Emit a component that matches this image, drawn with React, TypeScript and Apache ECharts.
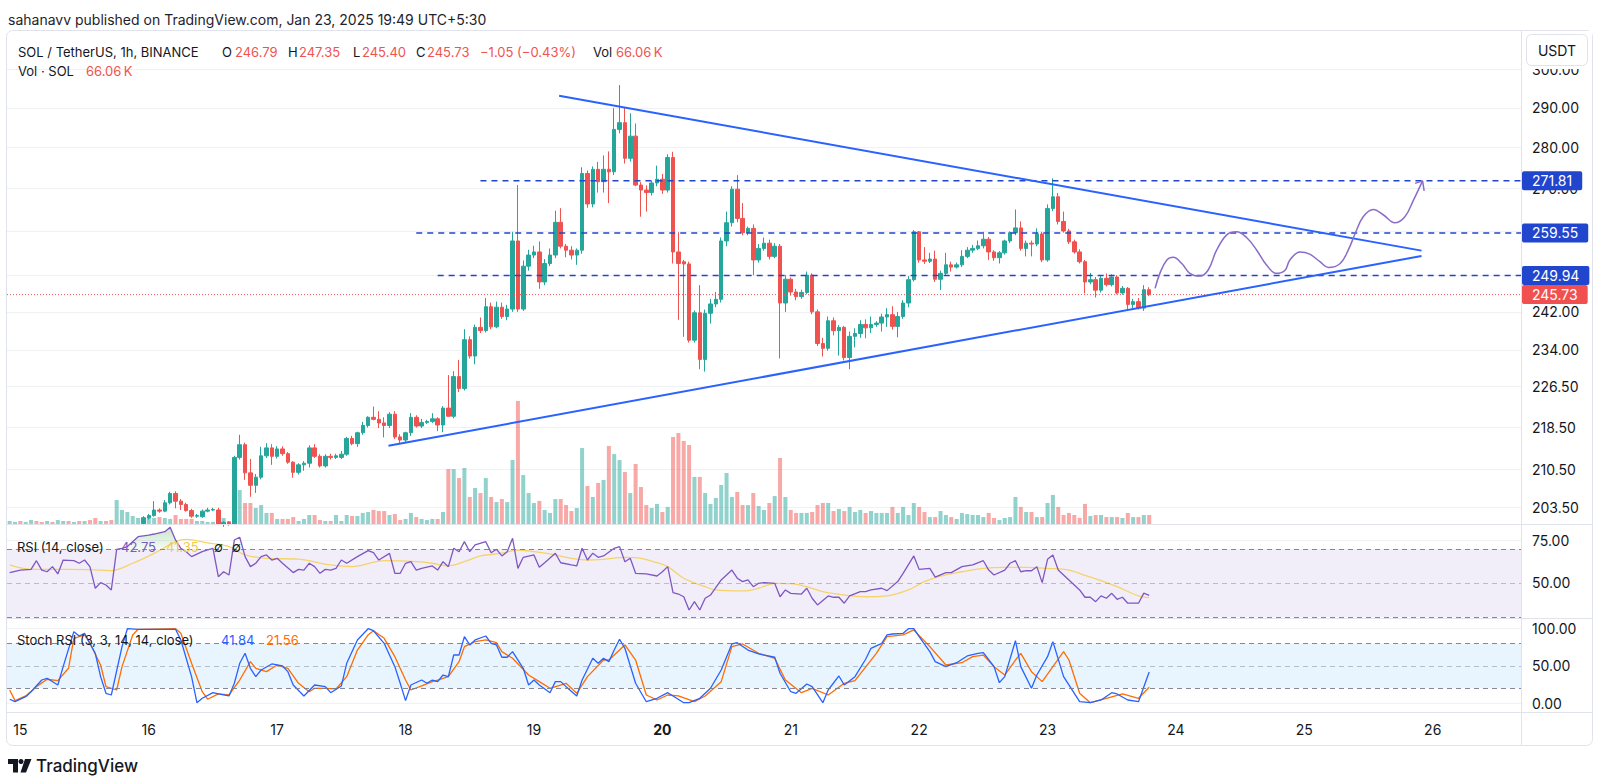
import React, { useEffect, useRef } from 'react';
import * as echarts from 'echarts';

// ---------- DATA ----------
// Hourly candles from Jan 14 22:00 (index 0) to Jan 23 19:00 (index 213): [open, high, low, close]
const ohlc: number[][] = [
  [193.5,194.2,192.9,193.8],[193.8,194.6,193.4,194.3],[194.3,194.8,193.6,194.0],[194.0,194.9,193.7,194.6],
  [194.6,196.2,194.3,195.9],[195.9,196.4,194.8,195.1],[195.1,195.5,194.4,194.9],[194.9,195.9,194.6,195.6],
  [195.6,195.8,194.5,194.8],[194.8,196.5,194.6,196.2],[196.2,196.8,195.7,196.4],[196.4,196.9,195.8,196.1],
  [196.1,197.0,195.9,196.6],[196.6,197.1,196.0,196.3],[196.3,197.2,196.0,196.9],[196.9,197.0,195.5,195.8],
  [195.8,196.0,193.2,193.6],[193.6,194.6,193.2,194.2],[194.2,194.4,193.1,193.5],[193.5,193.9,192.4,192.9],
  [192.9,199.2,192.7,198.8],[198.8,199.6,198.2,199.3],[199.3,199.8,198.9,199.6],[199.6,200.2,199.1,199.9],
  [199.9,200.4,199.5,200.2],
  [200.6,201.9,200.3,201.6],[201.6,202.3,201.3,202.0],[202.0,204.6,201.8,203.0],[203.0,203.3,202.5,202.8],
  [202.8,204.8,202.6,204.3],[204.3,206.3,204.0,206.0],[206.0,206.4,203.3,204.6],[204.6,205.0,203.0,204.0],
  [204.0,204.3,202.7,202.9],[202.9,203.2,201.6,201.9],[201.9,202.3,201.6,202.0],[201.8,203.1,201.6,202.8],
  [202.8,203.4,202.6,203.0],[203.0,203.4,202.8,203.1],[203.0,203.4,200.3,200.5],[200.5,201.0,200.0,200.8],
  [200.8,201.0,200.2,200.5],[200.5,213.0,200.3,212.7],[212.7,217.0,212.3,215.1],[215.1,215.5,208.5,209.8],
  [209.8,212.4,205.4,207.5],[207.5,209.6,206.1,209.0],[209.0,214.7,208.6,213.0],[213.0,215.4,212.6,214.5],
  [214.5,215.2,211.3,212.9],[212.9,214.8,212.5,214.3],[214.3,214.8,213.0,213.4],[213.4,213.7,211.5,211.8],
  [211.8,212.0,208.9,209.9],[209.9,211.6,209.5,211.3],[211.3,212.0,210.2,211.6],[211.6,215.0,210.8,214.5],
  [214.5,215.2,212.6,212.9],[212.9,213.3,210.8,211.1],[211.1,213.3,210.8,212.9],[212.9,213.4,212.3,212.7],
  [212.7,213.4,212.4,213.0],[212.7,213.9,212.4,213.3],[213.3,216.6,213.0,216.3],[216.3,216.8,215.0,215.3],
  [215.3,217.6,214.7,217.4],[217.4,219.5,217.0,218.8],[218.8,220.6,218.4,220.4],[220.4,222.5,219.8,220.0],
  [220.0,221.6,218.3,219.3],[219.3,220.4,216.5,218.8],[218.8,221.4,218.3,221.0],[221.0,221.6,216.2,216.6],
  [216.6,217.1,215.4,216.0],[216.0,217.6,215.6,217.4],[217.4,221.2,216.8,220.4],[220.4,220.8,218.4,218.7],
  [218.7,220.1,218.3,219.4],[219.4,219.9,219.1,219.6],[219.6,221.2,219.3,220.1],[220.1,220.4,217.7,218.9],
  [218.9,222.6,217.5,222.2],[222.2,228.8,221.8,220.6],[220.6,229.6,220.2,228.5],[228.5,231.9,225.4,226.1],
  [226.1,238.3,225.7,236.1],[236.1,236.8,232.2,232.7],[232.7,239.3,231.0,238.7],[238.7,240.8,237.5,238.0],
  [238.0,245.0,237.6,243.1],[243.1,244.0,238.3,238.8],[238.8,244.2,238.5,243.0],[243.0,244.0,240.5,241.0],
  [241.0,243.5,240.2,242.6],[242.6,259.8,242.0,257.7],[257.7,270.8,242.0,242.6],[242.6,253.3,242.2,252.0],
  [252.0,255.7,251.0,254.5],[254.5,256.6,253.8,255.2],[255.2,257.6,247.0,248.5],[248.5,253.6,247.8,252.6],
  [252.6,256.0,252.0,254.5],[254.5,264.7,253.8,262.0],[262.0,265.3,256.0,256.5],[256.5,257.0,254.0,255.6],
  [255.6,256.5,253.5,254.5],[254.5,256.0,252.3,255.6],[255.6,275.1,254.8,273.6],[273.6,274.3,265.4,266.3],
  [266.3,275.3,265.5,274.6],[274.6,276.4,269.0,271.6],[271.6,278.0,269.0,274.6],[274.6,279.0,266.5,274.0],
  [274.0,289.9,273.2,284.5],[284.5,295.9,283.5,286.2],[286.2,290.0,276.0,277.3],[277.3,288.6,276.5,282.8],
  [282.8,286.0,270.5,270.8],[270.8,271.5,263.3,269.6],[269.6,270.7,264.5,269.0],[269.0,271.8,268.3,271.3],
  [271.3,275.5,270.5,272.2],[272.2,273.5,268.7,269.6],[269.6,278.3,269.0,277.5],[277.5,278.9,252.6,255.2],
  [255.2,259.7,240.3,252.6],[253.0,253.4,236.7,252.5],[252.5,253.0,235.5,236.0],[236.0,242.3,235.5,241.8],
  [241.8,247.8,230.0,232.0],[232.0,242.5,229.5,241.7],[241.7,244.8,239.5,243.7],[243.7,246.3,243.0,244.7],
  [244.7,258.5,244.0,257.7],[257.7,264.5,256.5,261.9],[261.9,270.5,261.0,269.8],[269.8,273.2,262.0,262.9],
  [262.9,266.5,259.0,259.6],[259.6,261.0,259.0,260.6],[260.6,261.5,250.0,253.4],[253.4,257.0,252.8,256.0],
  [256.0,258.5,255.5,257.2],[257.2,258.0,253.5,254.2],[254.2,257.2,253.8,256.5],[256.5,257.0,232.2,243.9],
  [243.9,250.0,242.0,249.1],[249.1,249.5,245.5,246.3],[246.3,247.0,244.5,245.3],[245.3,246.8,244.8,246.2],
  [246.2,250.8,245.8,250.0],[250.0,250.4,241.5,242.0],[242.0,242.5,234.8,235.3],[235.3,236.5,232.6,234.3],
  [234.3,241.0,233.8,240.1],[240.1,240.8,237.0,238.0],[238.0,239.2,232.8,238.7],[238.7,239.0,231.8,232.4],
  [232.4,237.8,230.0,236.8],[236.8,238.5,234.5,237.4],[237.4,240.2,236.5,239.3],[239.3,240.4,236.4,238.6],
  [238.6,241.0,237.5,239.3],[239.3,240.0,238.8,239.6],[239.6,241.6,237.8,240.9],[240.9,242.8,238.8,241.4],
  [241.4,243.2,238.2,238.9],[238.9,242.0,236.6,241.0],[241.0,244.5,240.5,243.9],[243.9,249.8,243.0,249.0],
  [249.0,260.2,248.6,259.8],[259.8,260.0,252.8,253.4],[253.4,256.3,252.5,253.1],[253.1,255.0,252.7,253.6],
  [253.6,255.5,248.5,249.1],[249.1,251.0,246.7,250.4],[250.4,255.0,250.0,252.3],[252.3,253.0,250.8,251.8],
  [251.8,252.8,251.5,252.3],[252.3,255.6,251.8,254.2],[254.2,256.3,253.8,255.6],[255.6,256.8,255.0,256.0],
  [256.0,257.8,255.6,256.6],[256.6,259.8,256.0,258.1],[258.1,258.6,253.4,255.2],[255.2,255.6,253.2,253.9],
  [253.9,255.4,252.6,255.0],[255.0,258.0,254.6,257.7],[257.7,259.9,257.2,259.6],[259.6,265.0,259.0,260.7],
  [260.7,262.2,255.5,256.0],[256.0,257.8,254.2,257.2],[257.2,257.8,254.2,257.0],[257.0,260.6,256.5,259.3],
  [259.3,259.8,252.9,253.4],[253.4,266.2,253.0,265.2],[265.2,272.4,264.6,268.0],[268.0,268.9,261.5,262.2],
  [262.2,264.5,259.6,260.0],[260.0,260.5,257.0,257.5],[257.5,258.0,254.8,255.2],[255.2,255.8,252.6,253.0],
  [253.0,253.4,246.0,248.5],[248.5,250.5,248.0,249.0],[249.0,249.6,245.1,246.7],[246.7,249.8,246.2,249.3],
  [249.3,250.4,247.5,247.9],[247.9,250.2,247.5,249.6],[249.6,250.0,245.8,246.1],[246.1,247.6,245.7,247.1],
  [247.1,247.4,242.4,243.6],[243.6,244.8,242.8,244.2],[244.2,245.0,242.5,242.8],[242.8,247.8,242.2,246.8],
  [246.79,247.35,245.40,245.73],
];

// Volume per candle, thousands of SOL
const volumeK: number[] = [
  22,15,22,15,29,22,15,22,15,29,22,22,15,22,22,29,44,22,22,29,176,103,88,59,44,
  51,51,44,51,44,37,66,37,37,37,22,22,15,15,22,44,22,293,249,154,154,117,139,81,81,37,37,37,51,22,37,66,66,29,22,22,66,22,66,59,59,81,88,103,95,95,66,73,
  29,37,81,51,37,29,37,37,88,403,403,337,411,198,264,227,337,198,161,183,161,469,902,359,227,154,169,103,81,183,183,139,95,117,557,279,198,301,323,572,513,469,381,227,440,271,139,117,147,
  88,125,638,667,609,579,345,345,227,147,191,286,374,198,235,139,139,227,132,103,154,205,484,198,103,81,81,81,88,139,154,154,95,110,95,125,88,103,81,95,81,81,81,125,81,125,66,154,125,88,51,51,95,66,51,37,81,73,66,66,51,81,44,29,44,51,198,125,88,88,51,51,154,213,125,66,81,66,44,147,59,66,66,51,51,51,44,81,51,51,66,66.06,
];

// RSI(14) readings: [candle index, value]
const rsiPts: number[][] = [
  [0,56.1],[2,57.6],[4,58.0],[5,63.1],[6,57.6],[7,56.6],[8,59.6],[9,55.3],[10,63.5],[12,63.1],[13,61.6],[14,63.5],[15,59.6],[16,46.9],[17,50.2],[18,48.8],[19,45.9],[20,69.8],[21,70.4],[22,71.4],[24,77.2],[26,78.2],[27,78.8],[29,80.2],[30,82.8],[31,75.3],[32,70.4],[33,68.4],[34,65.5],[36,68.4],[37,69.4],[38,70.4],[39,53.7],[40,56.6],[41,54.7],[42,75.3],[43,76.9],[44,65.5],[45,59.6],[46,61.6],[47,65.5],[48,66.5],[49,63.5],[50,64.5],[51,61.6],[53,56.1],[54,58.0],[55,57.6],[56,61.6],[57,59.6],[58,55.7],[59,58.0],[60,57.6],[61,58.6],[62,63.5],[63,61.6],[65,65.5],[67,69.0],[68,67.8],[69,63.5],[71,67.4],[72,55.7],[73,55.7],[74,61.6],[75,62.5],[76,57.6],[77,58.6],[79,60.0],[80,57.6],[81,62.5],[82,59.6],[83,70.4],[84,68.4],[85,74.3],[86,68.4],[87,72.4],[89,74.3],[90,67.8],[91,69.8],
  [92,65.9],[93,68.4],[94,76.3],[95,58.6],[96,65.1],[98,66.5],[99,59.2],[100,61.9],[102,67.5],[103,61.9],[105,60.6],[106,60.0],[107,70.4],[108,63.5],[109,67.5],[110,65.1],[111,65.9],[113,70.4],[114,71.4],[115,62.5],[116,64.5],[117,55.7],[119,55.3],[121,54.1],[122,56.6],[123,59.6],[124,44.3],[125,43.5],[126,41.9],[127,34.1],[128,39.0],[129,34.1],[130,41.0],[131,42.9],[133,51.8],[134,54.7],[135,57.6],[136,52.8],[137,50.8],[138,51.8],[139,47.8],[140,49.8],[141,50.2],[143,49.8],[144,41.9],[145,45.9],[146,43.9],[148,43.5],[149,46.9],[150,41.0],[151,37.1],[153,42.4],[154,41.6],[155,41.6],[156,38.1],[157,42.4],[159,44.9],[160,44.9],[161,45.9],[163,46.9],[164,45.5],[166,50.8],[167,55.7],[169,65.9],[170,58.0],[172,58.6],[173,53.4],[175,56.1],[176,56.1],[178,59.6],[180,60.6],[182,63.1],[183,57.6],[184,54.7],[186,57.6],[187,61.6],[188,63.1],[189,56.6],[190,57.2],[191,57.2],[192,59.6],[193,50.2],[194,63.9],[195,66.5],[196,57.6],[198,51.8],[200,45.9],[201,41.6],[202,41.6],[203,39.0],[204,42.4],[205,41.0],[206,43.9],[207,40.4],[208,41.6],[209,38.1],[211,38.1],[212,44.0],[213,42.75],
];

// RSI-based moving average readings
const rsiMaPts: number[][] = [
  [0,60.6],[4,58.0],[11,58.0],[17,57.6],[19,57.3],[23,61.6],[27,67.4],[31,74.3],[33,75.7],[37,73.6],[41,71.4],[44,66.5],[48,64.5],[54,64.0],[60,60.6],[64,59.6],[70,63.1],[76,62.5],[79,61.6],[82,60.0],[85,62.5],[88,65.9],[92,67.5],[95,69.4],[98,68.4],[102,66.5],[105,64.5],[108,63.5],[111,63.9],[115,65.1],[118,64.5],[121,61.9],[123,59.6],[126,52.8],[130,47.8],[132,45.9],[137,45.3],[140,46.9],[143,49.8],[146,49.6],[149,47.8],[152,44.9],[156,42.9],[160,41.9],[164,42.4],[168,45.9],[171,50.8],[174,54.1],[178,56.6],[182,58.6],[186,59.2],[190,59.2],[194,58.6],[198,57.6],[201,54.5],[204,51.4],[207,47.8],[211,42.4],[213,41.35],
];

// Stoch RSI %K readings
const stochKPts: number[][] = [
  [0,5.4],[1,2.1],[3,8.8],[4,15.5],[6,31.2],[7,33.5],[9,24.5],[10,49.1],[12,96.0],[13,90.2],[14,93.8],[16,67.0],[17,35.7],[18,13.4],[19,11.1],[21,75.9],[22,100],[24,99.2],[28,99.2],[31,99.2],[32,84.9],[34,35.7],[35,0.8],[36,6.7],[38,14.2],[39,12.5],[41,9.8],[42,26.8],[43,53.6],[44,67.0],[45,46.9],[46,35.7],[47,44.6],[49,52.7],[51,50.0],[52,42.4],[53,24.5],[55,9.8],[57,24.5],[59,22.3],[60,14.2],[62,23.2],[63,53.6],[65,84.9],[67,100],[68,97.3],[70,80.4],[72,49.1],[73,26.8],[74,3.5],[75,24.5],[77,31.2],[78,26.8],[79,31.2],[80,29.0],[81,37.9],[82,35.7],[83,64.7],[84,64.7],[85,89.3],[86,78.2],[87,84.9],[89,90.2],[90,80.4],[91,78.2],[92,61.7],[93,61.7],[94,69.2],[96,46.9],[97,24.5],[98,31.2],[99,24.5],[101,14.2],[102,29.0],[103,29.0],[104,22.3],[106,9.8],[107,31.2],[109,60.3],[110,53.6],[111,60.3],[112,55.8],[113,71.4],[114,85.8],[115,73.7],[117,26.8],[119,2.1],[121,6.7],[123,14.2],[124,9.8],[126,0.8],[127,0.8],[129,6.7],[131,20.1],[133,44.6],[135,79.5],[136,81.2],[138,71.4],[140,66.1],[143,61.7],[144,40.2],[146,15.5],[147,13.4],[149,25.9],[150,22.3],[152,0.8],[153,17.8],[155,36.6],[156,24.5],[158,35.7],[160,59.0],[161,73.7],[163,80.4],[164,91.6],[165,92.9],[167,93.8],[168,100],[169,100],[170,89.3],[172,69.2],[173,55.8],[175,49.1],[177,54.4],[179,63.4],[181,67.0],[182,67.9],[184,49.1],[185,27.6],[186,35.7],[188,83.9],[189,49.1],[191,20.1],[192,37.9],[194,62.5],[195,82.6],[197,35.7],[200,2.1],[202,0.8],[204,4.4],[206,14.2],[207,12.5],[209,4.4],[211,2.1],[213,41.84],
];

// Stoch RSI %D readings
const stochDPts: number[][] = [
  [0,17.8],[1,3.5],[3,9.8],[5,22.3],[7,32.2],[9,30.3],[11,46.9],[12,87.1],[14,91.6],[15,80.4],[17,51.3],[18,22.3],[20,17.8],[21,49.1],[23,91.6],[24,99.2],[31,100],[32,93.8],[34,53.6],[36,15.5],[37,5.4],[39,12.5],[41,11.1],[43,31.2],[45,55.8],[46,46.9],[48,42.4],[50,51.3],[52,46.9],[54,26.8],[56,15.5],[57,20.1],[59,20.1],[61,19.2],[63,35.7],[65,71.4],[67,91.6],[68,97.3],[70,87.1],[72,62.5],[74,31.2],[75,17.8],[77,23.2],[79,29.0],[80,31.2],[82,35.7],[84,55.8],[85,75.9],[87,82.6],[89,84.9],[91,81.2],[92,69.2],[94,60.3],[97,37.9],[99,29.0],[101,20.1],[104,26.8],[106,13.4],[108,35.7],[111,58.0],[112,58.0],[115,78.2],[117,58.0],[119,11.1],[121,4.4],[123,11.1],[125,9.8],[128,2.1],[130,9.8],[133,29.0],[135,75.9],[137,79.5],[140,67.0],[143,60.3],[145,31.2],[148,14.2],[150,20.1],[153,11.1],[156,26.8],[158,30.3],[162,67.0],[164,89.3],[167,91.6],[169,98.3],[172,75.9],[175,51.3],[178,54.4],[180,62.5],[182,64.7],[184,49.1],[186,37.9],[188,58.0],[189,67.0],[191,42.4],[193,29.0],[195,49.1],[197,69.2],[198,58.0],[200,13.4],[202,0.8],[205,6.7],[208,12.5],[211,6.7],[213,21.56],
];

// Axis ticks / labels
const priceGridTicks = [300, 290, 280, 270, 260, 250, 242, 234, 226.5, 218.5, 210.5, 203.5];
const priceLabelTicks = [300, 290, 280, 270, 242, 234, 226.5, 218.5, 210.5, 203.5];
const rsiTicks = [50, 75];
const stochTicks = [0, 50, 100];
const dayLabels = ['15','16','17','18','19','20','21','22','23','24','25','26'];
const boldDay = '20';

// Drawings: [candle index (fractional), price]
const levels = [
  { price: 271.81, from: 88 },
  { price: 259.55, from: 76 },
  { price: 249.94, from: 80 },
];
const lastPrice = 245.73;
const upperTrend: number[][] = [[102.7, 293.1], [263.9, 255.5]];
const lowerTrend: number[][] = [[70.8, 214.9], [263.9, 254.3]];
const projection: number[][] = [
  [214.1,247.1],[215.0,250.4],[216.3,253.4],[217.5,254.0],[219.1,252.6],[220.6,250.4],[222.4,249.8],[224.0,251.1],
  [225.6,255.6],[227.5,259.1],[229.3,259.8],[231.2,258.5],[233.1,255.6],[234.9,252.3],[236.8,250.4],[238.4,251.1],
  [239.3,253.4],[241.2,255.2],[243.0,254.7],[244.9,253.0],[246.5,251.7],[248.7,252.6],[250.2,255.6],[251.5,259.4],
  [253.0,263.3],[254.9,265.0],[256.8,263.7],[258.9,261.9],[260.8,263.3],[262.4,267.2],[264.1,271.8],
];
const arrowHead: number[][] = [[262.7, 271.2], [264.1, 271.8], [264.4, 269.4]];

// ---------- LAYOUT CONSTANTS ----------
const SLOTS = 283;
const FIRST_MIDNIGHT = 2;
const PRICE_MIN = 200.5;
const PRICE_MAX = 310.71;
const FONT = 'Inter, "Noto Sans", sans-serif';
const TEXT = '#131722';
const UP = '#26a69a';
const DOWN = '#ef5350';
const LEVEL_BLUE = '#2145cd';
const TREND_BLUE = '#2962ff';
const GRID_L = 7, GRID_R = 79;

function buildOption() {
  const L = Math.log;
  const cats = Array.from({ length: SLOTS }, (_, i) => String(i));
  const candleData = ohlc.map(([o, h, l, c]) => [L(o), L(c), L(l), L(h)]);
  const volData = volumeK.map((v, i) => ({
    value: v,
    itemStyle: { color: ohlc[i][3] >= ohlc[i][0] ? 'rgba(38,166,154,0.5)' : 'rgba(239,83,80,0.5)' },
  }));
  const toLn = (pts: number[][]) => pts.map(([i, p]) => [i, L(p)]);
  const obFill = rsiPts.filter(([i]) => i >= 20 && i <= 33).map(([i, v]) => [i, Math.max(v, 70)]);

  const hiddenCat = (gridIndex: number) => ({
    type: 'category', gridIndex, data: cats, boundaryGap: true,
    axisLine: { show: false }, axisTick: { show: false }, axisLabel: { show: false }, splitLine: { show: false },
  });

  const tagLabel = (text: string, bg: string) => ({
    show: true, formatter: () => text, color: '#ffffff', backgroundColor: bg,
    padding: [2, 10, 2, 10], fontSize: 14, lineHeight: 15, fontFamily: FONT, distance: 1, borderRadius: 2,
  });

  const levelSeries = levels.map((lv) => ({
    type: 'line', xAxisIndex: 4, yAxisIndex: 0, clip: false, z: 5, silent: true,
    data: [[lv.from, L(lv.price)], [SLOTS - 0.5, L(lv.price)]],
    symbol: 'none', lineStyle: { color: LEVEL_BLUE, width: 1.5, type: [6, 5] },
    endLabel: tagLabel(lv.price.toFixed(2), LEVEL_BLUE),
  }));

  const txt = (text: string, x: number, y: number, fill = TEXT, size = 13, weight: any = 'normal') => ({
    type: 'text', x, y, z: 50,
    style: { text, fill, font: `${weight} ${size}px ${FONT}`, align: 'left', verticalAlign: 'middle' },
  });

  const graphic: any[] = [
    { type: 'rect', shape: { x: 6.5, y: 30.5, width: 1586, height: 715, r: 6 }, style: { fill: 'none', stroke: '#e0e3eb', lineWidth: 1 }, z: 40, silent: true },
    { type: 'line', shape: { x1: 6.5, y1: 524.5, x2: 1592.5, y2: 524.5 }, style: { stroke: '#e0e3eb', lineWidth: 1 }, z: 40 },
    { type: 'line', shape: { x1: 6.5, y1: 618.5, x2: 1592.5, y2: 618.5 }, style: { stroke: '#e0e3eb', lineWidth: 1 }, z: 40 },
    { type: 'line', shape: { x1: 6.5, y1: 712.5, x2: 1592.5, y2: 712.5 }, style: { stroke: '#e0e3eb', lineWidth: 1 }, z: 40 },
    { type: 'line', shape: { x1: 1521.5, y1: 30.5, x2: 1521.5, y2: 745.5 }, style: { stroke: '#e0e3eb', lineWidth: 1 }, z: 40 },
    txt('sahanavv published on TradingView.com, Jan 23, 2025 19:49 UTC+5:30', 8, 19, '#1e222d', 14),
    txt('SOL / TetherUS, 1h, BINANCE', 18, 52),
    txt('O', 222, 52), txt('246.79', 235, 52, DOWN),
    txt('H', 288, 52), txt('247.35', 299, 52, DOWN),
    txt('L', 353, 52), txt('245.40', 362, 52, DOWN),
    txt('C', 416, 52), txt('245.73', 427, 52, DOWN),
    txt('\u22121.05 (\u22120.43%)', 480, 52, DOWN),
    txt('Vol', 593, 52), txt('66.06\u2009K', 616, 52, DOWN),
    txt('Vol \u00b7 SOL', 18, 71), txt('66.06\u2009K', 86, 71, DOWN),
    txt('RSI (14, close)', 17, 547), txt('42.75', 121, 547, '#7e57c2'), txt('41.35', 166, 547, '#f2c94c'),
    txt('\u2205', 214, 547), txt('\u2205', 232, 547),
    txt('Stoch RSI (3, 3, 14, 14, close)', 17, 640), txt('41.84', 221, 640, '#2962ff'), txt('21.56', 266, 640, '#ff6d00'),
    {
      type: 'group', z: 100, children: [
        { type: 'rect', shape: { x: 1522, y: 31, width: 70, height: 38 }, style: { fill: '#ffffff' }, z: 99 },
        { type: 'rect', shape: { x: 1526.5, y: 34.5, width: 61, height: 31, r: 5 }, style: { fill: '#ffffff', stroke: '#e0e3eb', lineWidth: 1 }, z: 100 },
        { type: 'text', x: 1557, y: 50, z: 101, style: { text: 'USDT', fill: TEXT, font: `14px ${FONT}`, align: 'center', verticalAlign: 'middle' } },
      ],
    },
    { type: 'polygon', shape: { points: [[8, 759], [18, 759], [18, 772.5], [13, 772.5], [13, 764], [8, 764]] }, style: { fill: TEXT }, z: 50 },
    { type: 'circle', shape: { cx: 21, cy: 761.5, r: 2.5 }, style: { fill: TEXT }, z: 50 },
    { type: 'polygon', shape: { points: [[25, 759], [31.5, 759], [26, 772.5], [20.5, 772.5]] }, style: { fill: TEXT }, z: 50 },
    txt('TradingView', 36, 766, TEXT, 17, 500),
  ];

  return {
    animation: false,
    backgroundColor: '#ffffff',
    textStyle: { fontFamily: FONT },
    grid: [
      { left: GRID_L, right: GRID_R, top: 30, height: 494 },
      { left: GRID_L, right: GRID_R, top: 374, height: 150 },
      { left: GRID_L, right: GRID_R, top: 525, height: 93 },
      { left: GRID_L, right: GRID_R, top: 619, height: 93 },
    ],
    xAxis: [
      hiddenCat(0),
      hiddenCat(1),
      hiddenCat(2),
      {
        type: 'category', gridIndex: 3, data: cats, boundaryGap: true,
        axisLine: { show: false }, axisTick: { show: false }, splitLine: { show: false },
        axisLabel: {
          show: true, margin: 10, color: TEXT, fontSize: 14, fontFamily: FONT,
          interval: (index: number) => index >= FIRST_MIDNIGHT && (index - FIRST_MIDNIGHT) % 24 === 0,
          formatter: (_v: string, index: number) => {
            const d = dayLabels[(index - FIRST_MIDNIGHT) / 24];
            if (!d) return '';
            return d === boldDay ? `{b|${d}}` : d;
          },
          rich: { b: { fontWeight: 'bold', fontSize: 14, color: TEXT, fontFamily: FONT } },
        },
      },
      { type: 'value', gridIndex: 0, min: -0.5, max: SLOTS - 0.5, show: false },
    ],
    yAxis: [
      {
        type: 'value', gridIndex: 0, position: 'right', min: L(PRICE_MIN), max: L(PRICE_MAX),
        axisLine: { show: false },
        axisTick: { show: false, customValues: priceGridTicks.map(L) },
        axisLabel: { customValues: priceLabelTicks.map(L), formatter: (v: number) => Math.exp(v).toFixed(2), color: TEXT, fontSize: 14, margin: 11, fontFamily: FONT },
        splitLine: { show: true, lineStyle: { color: '#eff1f5', width: 1 } },
      },
      { type: 'value', gridIndex: 1, min: 0, max: 1100, show: false, splitLine: { show: false } },
      {
        type: 'value', gridIndex: 2, position: 'right', min: 29.4, max: 84.1,
        axisLine: { show: false },
        axisTick: { show: false, customValues: [75] },
        axisLabel: { customValues: rsiTicks, formatter: (v: number) => v.toFixed(2), color: TEXT, fontSize: 14, margin: 11, fontFamily: FONT },
        splitLine: { show: true, lineStyle: { color: '#eff1f5' } },
      },
      {
        type: 'value', gridIndex: 3, position: 'right', min: -11.7, max: 113,
        axisLine: { show: false },
        axisTick: { show: false, customValues: [0, 100] },
        axisLabel: { customValues: stochTicks, formatter: (v: number) => v.toFixed(2), color: TEXT, fontSize: 14, margin: 11, fontFamily: FONT },
        splitLine: { show: true, lineStyle: { color: '#eff1f5' } },
      },
    ],
    series: [
      {
        type: 'bar', xAxisIndex: 1, yAxisIndex: 1, data: volData, barWidth: 4, z: 1, silent: true,
      },
      {
        type: 'candlestick', xAxisIndex: 0, yAxisIndex: 0, data: candleData, barWidth: 4, z: 3, clip: true, silent: true,
        itemStyle: { color: UP, color0: DOWN, borderColor: UP, borderColor0: DOWN, borderWidth: 1 },
      },
      {
        type: 'line', xAxisIndex: 4, yAxisIndex: 0, clip: false, z: 4, silent: true,
        data: [[-0.5, L(lastPrice)], [SLOTS - 0.5, L(lastPrice)]], symbol: 'none',
        lineStyle: { color: DOWN, width: 1, type: [1, 2] },
        endLabel: tagLabel(lastPrice.toFixed(2), '#f05050'),
      },
      ...levelSeries,
      {
        type: 'line', xAxisIndex: 4, yAxisIndex: 0, clip: false, z: 6, silent: true, symbol: 'none',
        data: toLn(upperTrend), lineStyle: { color: TREND_BLUE, width: 2 },
      },
      {
        type: 'line', xAxisIndex: 4, yAxisIndex: 0, clip: false, z: 6, silent: true, symbol: 'none',
        data: toLn(lowerTrend), lineStyle: { color: TREND_BLUE, width: 2 },
      },
      {
        type: 'line', xAxisIndex: 4, yAxisIndex: 0, clip: false, z: 6, silent: true, symbol: 'none', smooth: 0.4,
        data: toLn(projection), lineStyle: { color: '#8b6cc8', width: 1.5 },
      },
      {
        type: 'line', xAxisIndex: 4, yAxisIndex: 0, clip: false, z: 6, silent: true, symbol: 'none',
        data: toLn(arrowHead), lineStyle: { color: '#8b6cc8', width: 1.5 },
      },
      // RSI pane
      {
        type: 'line', xAxisIndex: 2, yAxisIndex: 2, data: obFill, symbol: 'none', silent: true, z: 2,
        lineStyle: { width: 0, opacity: 0 },
        areaStyle: {
          origin: 70,
          color: new echarts.graphic.LinearGradient(0, 0, 0, 1, [
            { offset: 0, color: 'rgba(76,175,80,0.45)' },
            { offset: 1, color: 'rgba(76,175,80,0.08)' },
          ]),
        },
      },
      {
        type: 'line', xAxisIndex: 2, yAxisIndex: 2, data: rsiMaPts, symbol: 'none', silent: true, smooth: 0.35, z: 3,
        lineStyle: { color: '#f5d36a', width: 1.3 },
      },
      {
        type: 'line', xAxisIndex: 2, yAxisIndex: 2, data: rsiPts, symbol: 'none', silent: true, z: 4,
        lineStyle: { color: '#7e57c2', width: 1.3 },
        markArea: {
          silent: true, itemStyle: { color: 'rgba(126,87,194,0.1)' },
          data: [[{ yAxis: 30 }, { yAxis: 70 }]],
        },
        markLine: {
          silent: true, symbol: ['none', 'none'], label: { show: false },
          lineStyle: { color: '#787b86', type: [5, 4], width: 1, opacity: 0.9 },
          data: [{ yAxis: 70 }, { yAxis: 50, lineStyle: { opacity: 0.45 } }, { yAxis: 30 }],
        },
      },
      // Stoch RSI pane
      {
        type: 'line', xAxisIndex: 3, yAxisIndex: 3, data: stochKPts, symbol: 'none', silent: true, z: 4,
        lineStyle: { color: '#2962ff', width: 1.3 },
        markArea: {
          silent: true, itemStyle: { color: 'rgba(33,150,243,0.1)' },
          data: [[{ yAxis: 20 }, { yAxis: 80 }]],
        },
        markLine: {
          silent: true, symbol: ['none', 'none'], label: { show: false },
          lineStyle: { color: '#787b86', type: [5, 4], width: 1, opacity: 0.9 },
          data: [{ yAxis: 80 }, { yAxis: 50, lineStyle: { opacity: 0.45 } }, { yAxis: 20 }],
        },
      },
      {
        type: 'line', xAxisIndex: 3, yAxisIndex: 3, data: stochDPts, symbol: 'none', silent: true, z: 3,
        lineStyle: { color: '#ff6d00', width: 1.3 },
      },
    ],
    graphic,
  };
}

export default function App() {
  const ref = useRef<HTMLDivElement>(null);
  useEffect(() => {
    if (!ref.current) return;
    const chart = echarts.init(ref.current, null, { renderer: 'svg' });
    chart.setOption(buildOption() as any);
    return () => chart.dispose();
  }, []);
  return (
    <div
      ref={ref}
      style={{ position: 'fixed', left: 0, top: 0, width: 1600, height: 781, background: '#ffffff' }}
    />
  );
}
